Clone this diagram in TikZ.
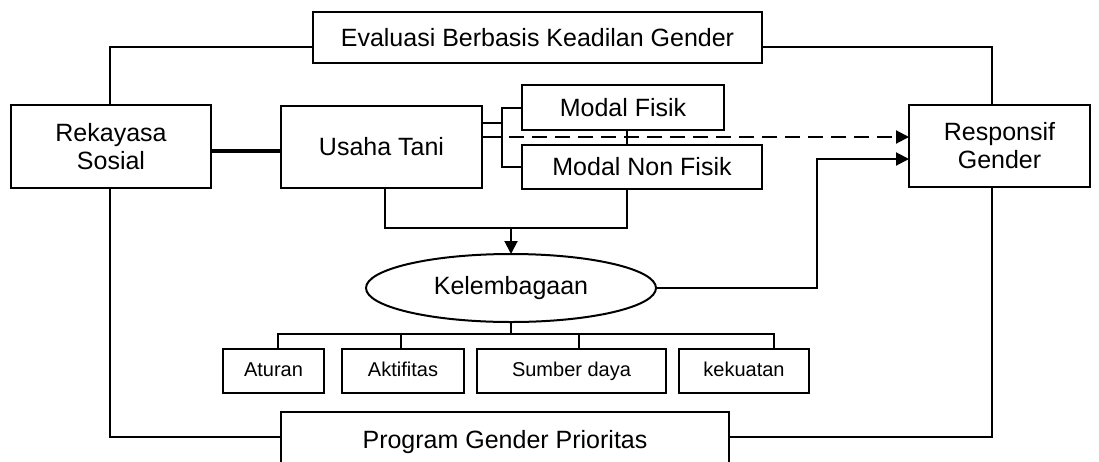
\documentclass[tikz,border=0pt]{standalone}
\usepackage{fontspec}
\setmainfont{Liberation Sans}
\usetikzlibrary{arrows.meta,shapes.geometric,calc}
\tikzset{
  box/.style={draw, line width=2pt, fill=white, inner sep=0pt, outer sep=0pt,
    font=\fontsize{25}{28}\selectfont, align=center},
  smallbox/.style={box, font=\fontsize{20}{24}\selectfont, text height=14.5pt, text depth=4.2pt},
  oval/.style={draw, ellipse, line width=2pt, fill=white, inner sep=0pt, outer sep=0pt,
    font=\fontsize{25}{28}\selectfont},
  conn/.style={line width=2pt},
  thickconn/.style={line width=4pt},
  arr/.style={line width=2pt, -{Triangle[length=13pt,width=13pt]}},
  dasharr/.style={arr, dash pattern=on 15pt off 8pt}
}
\begin{document}
\begin{tikzpicture}[x=1pt,y=-1pt]
\useasboundingbox (0,0) rectangle (1099,461);
\clip (0,0) rectangle (1099,461);
\fill[white] (0,0) rectangle (1099,461);

\coordinate (bt) at (502,107.5);
\coordinate (bb) at (502,167);
\coordinate (m) at (511,228);
\coordinate (kc) at (817,159);
\coordinate (t) at (511,334);

\node[box, minimum width=449pt, minimum height=51pt] (eval) at (537.5,37.5) {Evaluasi Berbasis Keadilan Gender};
\node[box, minimum width=200pt, minimum height=83pt] (rek) at (111,146.5) {Rekayasa\\Sosial};
\node[box, minimum width=201pt, minimum height=82pt] (usaha) at (381.5,147) {Usaha Tani};
\node[box, minimum width=202pt, minimum height=45pt] (mf) at (623,107.5) {Modal Fisik};
\node[box, minimum width=240pt, minimum height=44pt] (mnf) at (642,167) {Modal Non Fisik};
\node[box, minimum width=181pt, minimum height=82pt] (resp) at (999.5,146) {Responsif\\Gender};
\node[oval, minimum width=290pt, minimum height=68pt] (kel) at (511,288) {Kelembagaan};
\node[smallbox, minimum width=101pt, minimum height=44pt] (atu) at (273.5,371) {Aturan};
\node[smallbox, minimum width=122pt, minimum height=44pt] (akt) at (403,371) {Aktifitas};
\node[smallbox, minimum width=189pt, minimum height=44pt] (sum) at (571.5,371) {Sumber daya};
\node[smallbox, minimum width=130pt, minimum height=44pt] (kek) at (744,371) {kekuatan};
\node[box, minimum width=448pt, minimum height=60pt] (prog) at (505,442) {Program Gender Prioritas};

% outer frame
\draw[conn] ([yshift=-9.5pt]eval.west) -| ([xshift=-1pt]rek.north);
\draw[conn] ([yshift=-9.5pt]eval.east) -| ([xshift=-7.5pt]resp.north);
\draw[conn] ([xshift=-1pt]rek.south) |- ([yshift=5pt]prog.west);
\draw[conn] ([xshift=-7.5pt]resp.south) |- ([yshift=5pt]prog.east);

% Rekayasa -- Usaha
\draw[thickconn] ([yshift=-4pt]rek.east) -- ([yshift=-4pt]rek.east -| usaha.west);

% Usaha -- bracket -- Modal
\draw[conn] (usaha.east |- 0,123) -- (bt |- 0,123);
\draw[conn] (usaha.east |- 0,137) -- (bt |- 0,137);
\draw[conn] (mf.west) -- (bt) -- (bb) -- (mnf.west);
\draw[dasharr] ([xshift=7pt]bt |- 0,137) -- (resp.west |- 0,137);

% merge to Kelembagaan
\draw[conn] ([xshift=3.5pt]usaha.south) |- (m);
\draw[conn] ([xshift=4pt]mf.south) -- ([xshift=4pt]mf.south |- mnf.north);
\draw[conn] ([xshift=4pt]mf.south |- mnf.south) |- (m);
\draw[arr] (m) -- (kel.north);

% Kelembagaan -- Responsif
\draw[arr] (kel.east) -| (kc) -- (kc -| resp.west);

% tree
\draw[conn] (kel.south) -- (t);
\draw[conn] ([xshift=4.5pt]atu.north) |- ([xshift=30pt]kek.north |- t) -- ([xshift=30pt]kek.north);
\draw[conn] ([xshift=-2pt]akt.north) -- ([xshift=-2pt]akt.north |- t);
\draw[conn] ([xshift=7.5pt]sum.north) -- ([xshift=7.5pt]sum.north |- t);
\end{tikzpicture}
\end{document}
